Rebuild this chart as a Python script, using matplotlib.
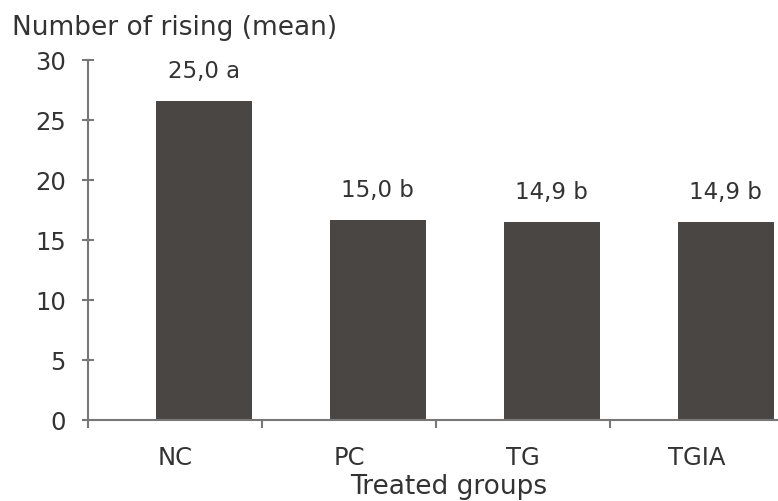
import matplotlib
matplotlib.use("Agg")
import matplotlib.pyplot as plt

groups = ["NC", "PC", "TG", "TGIA"]
rising = [26.6, 16.7, 16.5, 16.5]
bar_labels = ["25,0 a", "15,0 b", "14,9 b", "14,9 b"]
y_ticks = [0, 5, 10, 15, 20, 25, 30]

text_color = "#333333"
axis_color = "#777777"
bar_color = "#4a4644"

fig = plt.figure(figsize=(7.78, 5.02), dpi=100)
# axis extends slightly past the right edge, as in the original
ax = fig.add_axes([88 / 778, 81 / 502, 696 / 778, 360 / 502])

x = list(range(len(groups)))
bx = [i + 0.165 for i in x]
ax.bar(bx, rising, width=0.55, color=bar_color, zorder=2)

for xi, v, lab in zip(bx, rising, bar_labels):
    ax.annotate(lab, (xi, v), xytext=(0, 17), textcoords="offset points",
                ha="center", va="baseline", fontsize=16.5, color=text_color)

ax.set_xlim(-0.5, 3.5)
ax.set_ylim(0, 30)
ax.set_yticks(y_ticks)
ax.set_yticklabels([str(t) for t in y_ticks], fontsize=17.5, color=text_color)
ax.tick_params(axis="y", direction="inout", length=8, width=1.5,
               color=axis_color, pad=12)

# category boundaries carry the tick marks, names sit in between
ax.set_xticks([-0.5, 0.5, 1.5, 2.5, 3.5])
ax.set_xticklabels([])
ax.tick_params(axis="x", which="major", direction="out", length=6,
               width=1.5, color=axis_color)
ax.set_xticks(x, minor=True)
ax.set_xticklabels(groups, minor=True, fontsize=17.5, color=text_color)
ax.tick_params(axis="x", which="minor", length=0, pad=18)

for s in ["top", "right"]:
    ax.spines[s].set_visible(False)
for s in ["left", "bottom"]:
    ax.spines[s].set_color(axis_color)
    ax.spines[s].set_linewidth(1.5)

fig.text(12 / 778, 1 - 28 / 502, "Number of rising (mean)", fontsize=19,
         color=text_color, ha="left", va="center")
fig.text(449 / 778, 1 - 487 / 502, "Treated groups", fontsize=19,
         color=text_color, ha="center", va="center")

fig.savefig("out.png", dpi=100)
